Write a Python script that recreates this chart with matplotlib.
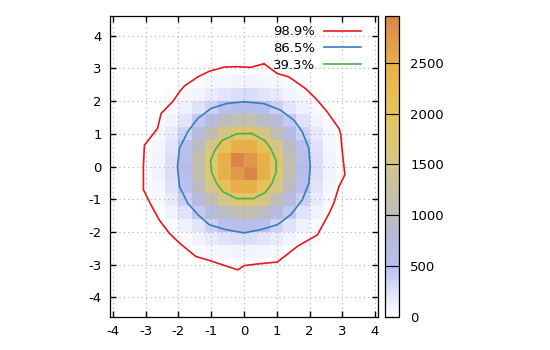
import numpy as np
import matplotlib
matplotlib.use("Agg")
import matplotlib.pyplot as plt
from matplotlib.colors import LinearSegmentedColormap

plt.rcParams['font.family'] = ['DejaVu Sans']
plt.rcParams['axes.unicode_minus'] = False

# 2D histogram counts, rows from top (y=3.8) to bottom (y=-3.8), columns x=-3.8..3.8
counts = np.array([
    [0, 0, 0, 0, 0, 0, 0, 1, 2, 3, 2, 2, 1, 0, 0, 0, 0, 0, 0, 0],
    [0, 0, 0, 0, 1, 2, 3, 7, 8, 10, 11, 9, 5, 3, 2, 1, 0, 0, 0, 0],
    [0, 0, 0, 1, 3, 7, 13, 18, 27, 35, 30, 28, 19, 13, 6, 3, 1, 0, 0, 0],
    [0, 0, 1, 4, 11, 20, 39, 68, 86, 99, 108, 92, 61, 42, 19, 10, 3, 1, 0, 0],
    [0, 1, 3, 9, 25, 58, 101, 172, 226, 263, 281, 229, 175, 104, 58, 24, 10, 2, 1, 0],
    [0, 2, 7, 20, 57, 118, 236, 366, 512, 584, 607, 505, 380, 225, 121, 59, 20, 6, 2, 1],
    [1, 4, 11, 42, 101, 227, 447, 690, 962, 1110, 1138, 958, 712, 428, 236, 104, 41, 13, 3, 1],
    [1, 6, 21, 62, 172, 366, 708, 1112, 1546, 1790, 1822, 1530, 1121, 703, 369, 175, 63, 20, 5, 1],
    [2, 9, 26, 91, 228, 514, 950, 1556, 2096, 2462, 2490, 2108, 1530, 970, 505, 238, 88, 27, 9, 2],
    [3, 10, 34, 101, 277, 590, 1131, 1795, 2488, 2960, 2770, 2460, 1818, 1117, 600, 268, 107, 31, 9, 2],
    [2, 11, 31, 106, 268, 601, 1117, 1812, 2466, 2760, 2950, 2490, 1796, 1130, 590, 276, 100, 33, 11, 2],
    [2, 8, 28, 86, 236, 503, 966, 1532, 2120, 2480, 2456, 2101, 1550, 954, 513, 229, 91, 26, 8, 2],
    [1, 6, 19, 66, 165, 375, 694, 1130, 1528, 1812, 1795, 1552, 1118, 707, 378, 166, 67, 19, 6, 1],
    [1, 3, 12, 38, 107, 233, 432, 706, 949, 1131, 1115, 968, 695, 441, 227, 109, 38, 12, 4, 1],
    [0, 2, 6, 22, 54, 126, 228, 378, 503, 597, 588, 515, 366, 236, 118, 55, 22, 7, 2, 0],
    [0, 1, 3, 10, 26, 54, 108, 166, 238, 270, 266, 229, 171, 103, 57, 26, 9, 3, 1, 0],
    [0, 0, 1, 4, 9, 22, 38, 64, 92, 103, 99, 87, 67, 41, 21, 11, 4, 1, 0, 0],
    [0, 0, 0, 1, 3, 6, 11, 21, 26, 31, 34, 25, 19, 12, 6, 3, 1, 0, 0, 0],
    [0, 0, 0, 0, 1, 2, 4, 5, 9, 10, 9, 7, 6, 4, 2, 1, 0, 0, 0, 0],
    [0, 0, 0, 0, 0, 0, 0, 1, 2, 2, 2, 2, 1, 1, 0, 0, 0, 0, 0, 0],
])

# contour lines (closed polygons)
red_x = [0.61, 1.02, 1.37, 1.88, 2.19, 2.54, 2.90, 2.95, 3.00, 3.08, 2.90, 2.75, 2.60, 2.24, 1.63,
         1.02, 0.41, 0.00, -0.19, -1.06, -1.47, -1.97, -2.28, -2.59, -2.84, -3.07, -3.07, -3.04,
         -2.64, -2.53, -2.18, -1.97, -1.82, -1.41, -1.06, -0.60, -0.20, 0.20, 0.61]
red_y = [3.14, 2.84, 2.74, 2.38, 2.08, 1.67, 1.16, 1.01, 0.45, -0.25, -0.61, -1.10, -1.43, -2.09, -2.44,
         -2.92, -2.98, -3.03, -3.16, -2.87, -2.75, -2.34, -2.04, -1.63, -1.17, -0.71, 0.00, 0.65,
         1.16, 1.62, 1.98, 2.28, 2.46, 2.74, 2.91, 3.04, 3.05, 3.03, 3.14]

blue_x = [0.00, 0.61, 1.12, 1.53, 1.78, 1.98, 2.02, 1.98, 1.78, 1.43, 1.02, 0.51, 0.00, -0.55,
          -1.06, -1.41, -1.72, -1.97, -2.03, -1.97, -1.72, -1.41, -1.01, -0.55, 0.00]
blue_y = [1.98, 1.92, 1.72, 1.41, 1.06, 0.55, 0.00, -0.51, -1.02, -1.47, -1.78, -1.93, -2.03, -1.93,
          -1.78, -1.47, -1.12, -0.61, 0.00, 0.55, 1.06, 1.47, 1.77, 1.92, 1.98]

green_x = [0.23, 0.64, 0.82, 0.98, 0.98, 0.85, 0.64, 0.29, -0.22, -0.63, -0.83, -0.99, -1.02,
           -0.89, -0.68, -0.22, 0.23]
green_y = [1.01, 0.79, 0.54, 0.18, -0.17, -0.53, -0.80, -0.98, -0.98, -0.78, -0.53, -0.17, 0.18,
           0.49, 0.79, 1.00, 1.01]

levels = ["98.9%", "86.5%", "39.3%"]
cb_ticks = [0, 500, 1000, 1500, 2000, 2500]
vmax = 2960

cmap = LinearSegmentedColormap.from_list("dens", [
    (0.0, "#ffffff"), (250 / vmax, "#dde0fa"), (500 / vmax, "#b9c0f0"),
    (750 / vmax, "#b6badc"), (1000 / vmax, "#bcbcbc"), (1250 / vmax, "#c8c0a6"),
    (1500 / vmax, "#d4c688"), (1750 / vmax, "#dcc870"), (2000 / vmax, "#e4c460"),
    (2250 / vmax, "#e8bc50"), (2500 / vmax, "#e8ae48"), (2750 / vmax, "#e09a48"),
    (1.0, "#dc8444")])

fig = plt.figure(figsize=(5.5, 3.5), dpi=100)
ax = fig.add_axes([110 / 550, 33 / 350, 268 / 550, 301 / 350])
cax = fig.add_axes([385 / 550, 33 / 350, 14 / 550, 301 / 350])

edges = np.linspace(-4, 4, 21)
mesh = ax.pcolormesh(edges, edges, np.ma.masked_equal(np.flipud(counts), 0), cmap=cmap,
                     vmin=0, vmax=vmax, shading="flat", zorder=1)

ax.grid(True, color="#b0b0b0", linestyle=(0, (1, 3)), linewidth=0.8, zorder=2)
ax.set_axisbelow(False)

ax.plot(red_x, red_y, color="#e41a1c", lw=1.2, label=levels[0], zorder=3)
ax.plot(blue_x, blue_y, color="#377eb8", lw=1.2, label=levels[1], zorder=3)
ax.plot(green_x, green_y, color="#4daf4a", lw=1.2, label=levels[2], zorder=3)

ax.set_xlim(-4.09, 4.09)
ax.set_ylim(-4.6, 4.6)
ax.set_xticks(range(-4, 5))
ax.set_yticks(range(-4, 5))
ax.tick_params(direction="in", length=4.5, width=1.0, top=True, right=True,
               labelsize=9.5, pad=6)
for s in ax.spines.values():
    s.set_linewidth(0.9)

leg = ax.legend(loc="upper right", frameon=False, markerfirst=False, fontsize=9.5,
                handlelength=2.8, handletextpad=0.7, labelspacing=0.28,
                borderaxespad=0.3, bbox_to_anchor=(0.972, 1.0))

cb = fig.colorbar(mesh, cax=cax, ticks=cb_ticks)
cb.outline.set_linewidth(0.9)
cax.tick_params(direction="in", length=6, width=0.8, left=True, right=True,
                labelsize=9.5, pad=8)

fig.savefig("out.png", dpi=100)
